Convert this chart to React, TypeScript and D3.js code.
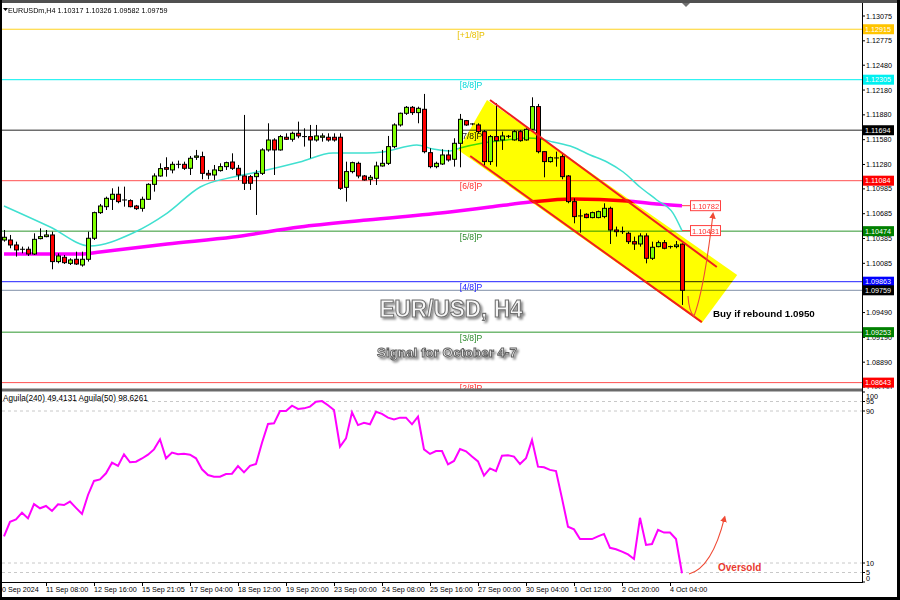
import React from 'react';
import * as d3 from 'd3';

// EURUSD H4 candles, bar 0 = 10 Sep 2024 (approx), last bar = 4 Oct 04:00+
const opens = [
  1.10367, 1.10367, 1.10307, 1.10247, 1.10255, 1.10198, 1.10384, 1.10408, 1.10428, 1.10106,
  1.10158, 1.10085, 1.10134, 1.10065, 1.10134, 1.10388, 1.10698, 1.10770, 1.10859, 1.10920,
  1.10843, 1.10843, 1.10778, 1.10750, 1.10859, 1.11040, 1.11141, 1.11242, 1.11214, 1.11270,
  1.11282, 1.11234, 1.11367, 1.11375, 1.11173, 1.11153, 1.11206, 1.11254, 1.11310, 1.11234,
  1.11141, 1.11133, 1.11133, 1.11173, 1.11456, 1.11576, 1.11456, 1.11609, 1.11585, 1.11657,
  1.11617, 1.11617, 1.11576, 1.11609, 1.11609, 1.11609, 1.11609, 1.11004, 1.11194, 1.11294,
  1.11141, 1.11101, 1.11113, 1.11262, 1.11294, 1.11496, 1.11758, 1.11899, 1.11971, 1.11907,
  1.11947, 1.11423, 1.11254, 1.11286, 1.11395, 1.11343, 1.11536, 1.11810, 1.11766, 1.11758,
  1.11677, 1.11315, 1.11617, 1.11577, 1.11617, 1.11577, 1.11677, 1.11577, 1.11705, 1.11980,
  1.11435, 1.11315, 1.11355, 1.11375, 1.11141, 1.10831, 1.10658, 1.10678, 1.10638, 1.10638,
  1.10650, 1.10750, 1.10488, 1.10468, 1.10448, 1.10347, 1.10319, 1.10416, 1.10146, 1.10287,
  1.10335, 1.10287, 1.10287, 1.10317,
];
const highs = [
  1.10488, 1.10428, 1.10347, 1.10287, 1.10287, 1.10448, 1.10508, 1.10488, 1.10468, 1.10206,
  1.10186, 1.10146, 1.10226, 1.10226, 1.10468, 1.10710, 1.10803, 1.10891, 1.10992, 1.11012,
  1.11012, 1.10859, 1.10791, 1.10891, 1.11053, 1.11173, 1.11294, 1.11367, 1.11314, 1.11327,
  1.11314, 1.11383, 1.11456, 1.11435, 1.11214, 1.11274, 1.11294, 1.11314, 1.11415, 1.11274,
  1.11879, 1.11153, 1.11214, 1.11476, 1.11778, 1.11597, 1.11637, 1.11657, 1.11677, 1.11798,
  1.11717, 1.11758, 1.11758, 1.11657, 1.11657, 1.11657, 1.11657, 1.11314, 1.11314, 1.11314,
  1.11153, 1.11153, 1.11314, 1.11456, 1.11625, 1.11778, 1.11907, 1.11987, 1.11987, 1.11979,
  1.12133, 1.11476, 1.11314, 1.11464, 1.11456, 1.11597, 1.11891, 1.11818, 1.11778, 1.11778,
  1.11697, 1.11637, 1.12020, 1.11677, 1.11637, 1.11697, 1.11697, 1.11718, 1.12092, 1.12012,
  1.11440, 1.11375, 1.11435, 1.11415, 1.11153, 1.10871, 1.10738, 1.10690, 1.10710, 1.10722,
  1.10811, 1.10770, 1.10529, 1.10529, 1.10468, 1.10408, 1.10448, 1.10448, 1.10347, 1.10359,
  1.10367, 1.10299, 1.10355, 1.10326,
];
const lows = [
  1.10347, 1.10267, 1.10166, 1.10206, 1.10174, 1.10186, 1.10375, 1.10400, 1.10013, 1.10085,
  1.10077, 1.10065, 1.10065, 1.10045, 1.10106, 1.10367, 1.10682, 1.10730, 1.10730, 1.10811,
  1.10770, 1.10762, 1.10730, 1.10710, 1.10851, 1.10952, 1.11133, 1.11133, 1.11173, 1.11234,
  1.11214, 1.11153, 1.11335, 1.11101, 1.11101, 1.11093, 1.11194, 1.11214, 1.11214, 1.11093,
  1.10972, 1.10972, 1.10670, 1.11153, 1.11435, 1.11153, 1.11447, 1.11576, 1.11556, 1.11597,
  1.11496, 1.11355, 1.11556, 1.11556, 1.11556, 1.11556, 1.10972, 1.10831, 1.11173, 1.11113,
  1.11085, 1.11032, 1.11032, 1.11254, 1.11274, 1.11476, 1.11738, 1.11879, 1.11879, 1.11778,
  1.11415, 1.11234, 1.11234, 1.11274, 1.11314, 1.11254, 1.11246, 1.11746, 1.11754, 1.11657,
  1.11262, 1.11274, 1.11254, 1.11456, 1.11597, 1.11568, 1.11556, 1.11568, 1.11697, 1.11415,
  1.11125, 1.11303, 1.11254, 1.11101, 1.10811, 1.10569, 1.10456, 1.10630, 1.10630, 1.10630,
  1.10630, 1.10319, 1.10408, 1.10440, 1.10319, 1.10247, 1.10287, 1.10085, 1.10126, 1.10279,
  1.10255, 1.10263, 1.10267, 1.09582,
];
const closes = [
  1.10400, 1.10307, 1.10247, 1.10255, 1.10198, 1.10375, 1.10408, 1.10428, 1.10106, 1.10174,
  1.10093, 1.10126, 1.10077, 1.10134, 1.10388, 1.10698, 1.10778, 1.10871, 1.10920, 1.10831,
  1.10851, 1.10770, 1.10746, 1.10859, 1.11040, 1.11141, 1.11230, 1.11222, 1.11282, 1.11282,
  1.11234, 1.11355, 1.11383, 1.11173, 1.11153, 1.11214, 1.11254, 1.11302, 1.11234, 1.11153,
  1.11053, 1.11053, 1.11173, 1.11456, 1.11576, 1.11456, 1.11617, 1.11585, 1.11657, 1.11625,
  1.11609, 1.11576, 1.11625, 1.11625, 1.11576, 1.11576, 1.10992, 1.11194, 1.11302, 1.11141,
  1.11093, 1.11125, 1.11262, 1.11294, 1.11496, 1.11758, 1.11899, 1.11971, 1.11907, 1.11959,
  1.11435, 1.11254, 1.11294, 1.11395, 1.11335, 1.11536, 1.11826, 1.11758, 1.11770, 1.11677,
  1.11315, 1.11617, 1.11568, 1.11625, 1.11621, 1.11677, 1.11568, 1.11705, 1.11980, 1.11435,
  1.11315, 1.11363, 1.11359, 1.11133, 1.10831, 1.10650, 1.10654, 1.10638, 1.10698, 1.10710,
  1.10750, 1.10488, 1.10468, 1.10466, 1.10347, 1.10319, 1.10416, 1.10146, 1.10279, 1.10335,
  1.10267, 1.10275, 1.10307, 1.09759,
];

// moving averages read at sample bars
const fastMaBars = [0, 7.7, 14.3, 21.5, 27.2, 32.7, 38.2, 43.8, 49.3, 54.8, 60.5, 63.2, 68.8, 71.5, 74.3, 76, 79.8, 83.8, 87.2, 89.3, 91.5, 94.8, 97.7, 100.5, 103.2, 106, 108.8, 111.5, 113];
const fastMaValues = [1.10778, 1.10524, 1.10295, 1.10452, 1.10693, 1.11008, 1.11129, 1.11213, 1.11310, 1.11419, 1.11419, 1.11431, 1.11516, 1.11467, 1.11443, 1.11479, 1.11540, 1.11576, 1.11600, 1.11590, 1.11552, 1.11491, 1.11395, 1.11310, 1.11189, 1.11008, 1.10851, 1.10693, 1.10481];
const slowMaBars = [0, 13.2, 16, 27.2, 38.2, 49.3, 60.5, 74.3, 81, 87.7, 94.8, 103.8, 108.8, 113];
const slowMaValues = [1.10198, 1.10198, 1.10222, 1.10319, 1.10403, 1.10524, 1.10609, 1.10706, 1.10766, 1.10826, 1.10863, 1.10839, 1.10802, 1.10782];

// Aguila(240) oscillator, one value per bar
const oscValues = [
  24, 31.7, 33, 36.5, 33.5, 41, 38.8, 40, 37.4, 40.9,
  40.5, 42.3, 39, 35.8, 45.8, 53.2, 54, 57.2, 62.8, 61.1,
  67.2, 63, 63.3, 65, 67, 69.8, 75.1, 65.1, 68.1, 67.2,
  67.5, 67, 65.1, 59.3, 56.3, 55.4, 55.4, 56.8, 57, 61,
  57.7, 61.1, 62.1, 73.3, 83.2, 83.5, 90, 90, 92.8, 91.1,
  91.4, 92.3, 94.9, 95.2, 93, 90.5, 71.2, 75.6, 89.3, 82.6,
  83.8, 83, 89.6, 88.5, 86.5, 85.6, 86.5, 86.5, 83, 87,
  69.8, 67.4, 68.9, 68.9, 61.9, 63.7, 70, 68.8, 66, 63.5,
  56, 59.8, 58.4, 66.5, 66.7, 66, 62.1, 65.1, 74.7, 60.7,
  60.4, 59, 58.4, 44, 29.1, 27.7, 22.6, 22.6, 22.6, 24,
  25.3, 18, 17.2, 16, 14.5, 12.1, 33.8, 19.5, 20, 27.4,
  26, 26, 22.6, 4.6,
];

// Murrey math levels
const levelNames = ['[+1/8]P', '[8/8]P', '[7/8]P', '[6/8]P', '[5/8]P', '[4/8]P', '[3/8]P', '[2/8]P'];
const levelPrices = [1.12915, 1.12305, 1.11694, 1.11084, 1.10474, 1.09863, 1.09253, 1.08643];
const levelLineColors = ['#FFD21F', '#00F0F0', '#6E6E6E', '#FF5050', '#2E962E', '#2020FF', '#2E962E', '#FF5050'];
const levelTextColors = ['#E8C000', '#00D8D8', '#222222', '#FF3030', '#2E8B2E', '#2020FF', '#2E8B2E', '#FF3030'];
const levelBoxColors = ['#FFC400', '#00F0F0', '#000000', '#FF0000', '#008000', '#0000FF', '#008000', '#FF0000'];
const bidPrice = 1.09759;

const priceTicks = [1.13075, 1.12775, 1.1248, 1.1218, 1.1188, 1.1158, 1.1128, 1.10985, 1.10685, 1.10385, 1.10085, 1.0949, 1.0919, 1.0889, 1.0859];

const timeLabels = ['10 Sep 2024', '11 Sep 08:00', '12 Sep 16:00', '15 Sep 21:05', '17 Sep 04:00', '18 Sep 12:00', '19 Sep 20:00', '23 Sep 00:00', '24 Sep 08:00', '25 Sep 16:00', '27 Sep 00:00', '30 Sep 04:00', '1 Oct 12:00', '2 Oct 20:00', '4 Oct 04:00'];
const timeLabelBars = [-1, 7, 15, 23, 31, 39, 47, 55, 63, 71, 79, 87, 95, 103, 111];

const oscTicks = [100, 95, 90, 10, 5, 0];
const oscDashed = [95, 90, 10, 5];

// channel drawn on the chart (bar, price)
const channelPoly: [number, number][] = [[80.5, 1.1206], [122.2, 1.09944], [116.3, 1.09363], [75.7, 1.11455]];
const channelUpper: [number, number][] = [[81, 1.1206], [118.8, 1.10041]];
const channelLower: [number, number][] = [[77.7, 1.11382], [116.3, 1.09374]];

const FONT = '"Liberation Sans", Arial, sans-serif';

export default function App() {
  const x = d3.scaleLinear().domain([0, 113]).range([4, 682]);
  const y = d3.scaleLinear().domain([1.13075, 1.0859]).range([16, 387]);
  const yo = d3.scaleLinear().domain([0, 100]).range([582, 392]);

  const maLine = d3.line<[number, number]>()
    .x(d => x(d[0]))
    .y(d => y(d[1]))
    .curve(d3.curveMonotoneX);
  const fastPath = maLine(fastMaBars.map((b, i) => [b, fastMaValues[i]]) as [number, number][]) || '';
  const slowPath = maLine(slowMaBars.map((b, i) => [b, slowMaValues[i]]) as [number, number][]) || '';

  const oscPath = d3.line<number>()
    .x((_, i) => x(i))
    .y(d => yo(d))(oscValues) || '';

  const pt = (b: number, p: number) => `${x(b).toFixed(1)},${y(p).toFixed(1)}`;
  const opt = (b: number, v: number) => `${x(b).toFixed(1)},${yo(v).toFixed(1)}`;

  const buyArrow = `M${pt(114, 1.0969)} Q${pt(114.17, 1.09497)} ${pt(115, 1.09448)} Q${pt(116.67, 1.09763)} ${pt(118.17, 1.10681)}`;
  const oversoldArrow = `M${opt(114.17, 4.2)} Q${opt(118, 7.4)} ${opt(120.1, 34)}`;

  const labelX = 471;

  return (
    <div style={{ position: 'absolute', left: 0, top: 0 }}>
      <svg width={900} height={600} style={{ display: 'block', fontFamily: FONT }}>
        <defs>
          <clipPath id="pricePanel"><rect x={2} y={5} width={860} height={384} /></clipPath>
          <clipPath id="oscPanel"><rect x={2} y={392} width={860} height={190} /></clipPath>
          <marker id="arrowHead" viewBox="0 0 10 10" refX="7" refY="5" markerWidth="6" markerHeight="6" orient="auto">
            <path d="M0,0 L10,5 L0,10 z" fill="#F04A35" />
          </marker>
          <filter id="txtShadow" x="-10%" y="-40%" width="130%" height="200%">
            <feDropShadow dx="2" dy="2" stdDeviation="1.3" floodColor="#000" floodOpacity="0.45" />
          </filter>
        </defs>

        <rect x={0} y={0} width={900} height={600} fill="#fff" />

        {/* price panel */}
        <g clipPath="url(#pricePanel)">
          <rect x={2} y={5} width={860} height={384} fill="#fff" />
          {levelPrices.map((p, i) => (
            <line key={'lv' + i} x1={2} x2={862} y1={y(p)} y2={y(p)} stroke={levelLineColors[i]} strokeWidth={i === 2 ? 1.5 : 1} />
          ))}
          <line x1={2} x2={862} y1={y(bidPrice)} y2={y(bidPrice)} stroke="#8090A8" strokeWidth={1} />
          {levelPrices.map((p, i) => (
            <text key={'lt' + i} x={labelX} y={y(p) + 8.5} fontSize={8.6} textAnchor="middle" fill={levelTextColors[i]}>{levelNames[i]}</text>
          ))}

          <path d={slowPath} fill="none" stroke="#FF00FF" strokeWidth={3.5} />
          <path d={fastPath} fill="none" stroke="#40E0D0" strokeWidth={1.5} />

          {opens.map((o, i) => {
            const c = closes[i];
            const cx = Math.round(x(i)) + 0.5;
            const top = y(Math.max(o, c));
            const bot = y(Math.min(o, c));
            const up = c >= o;
            return (
              <g key={'c' + i}>
                <line x1={cx} x2={cx} y1={y(highs[i])} y2={y(lows[i])} stroke="#000" strokeWidth={1} />
                {bot - top < 1.2 ? (
                  <line x1={cx - 2.5} x2={cx + 2.5} y1={top} y2={top} stroke="#000" strokeWidth={1} />
                ) : (
                  <rect x={cx - 2} y={top} width={4} height={bot - top} fill={up ? '#80FF00' : '#FF0000'} stroke="#000" strokeWidth={1} />
                )}
              </g>
            );
          })}

          <polygon points={channelPoly.map(d => pt(d[0], d[1])).join(' ')} fill="#FFFF00" style={{ mixBlendMode: 'multiply' }} />
          <line x1={x(channelUpper[0][0])} y1={y(channelUpper[0][1])} x2={x(channelUpper[1][0])} y2={y(channelUpper[1][1])} stroke="#F01E1E" strokeWidth={2} />
          <line x1={x(channelLower[0][0])} y1={y(channelLower[0][1])} x2={x(channelLower[1][0])} y2={y(channelLower[1][1])} stroke="#F01E1E" strokeWidth={2} />

          {/* MA price labels */}
          {[slowMaValues[slowMaValues.length - 1], fastMaValues[fastMaValues.length - 1]].map((v, i) => (
            <g key={'ml' + i}>
              <line x1={x(113)} x2={x(113) + 8} y1={y(v)} y2={y(v)} stroke="#FF4040" strokeWidth={1} />
              <rect x={x(113) + 8.5} y={y(v) - 5} width={30} height={10} fill="#fff" stroke="#FF4040" strokeWidth={1} />
              <text x={x(113) + 23.5} y={y(v) + 3} fontSize={7.5} textAnchor="middle" fill="#FF3030">{v.toFixed(5)}</text>
            </g>
          ))}

          <path d={buyArrow} fill="none" stroke="#F04A35" strokeWidth={1.1} markerEnd="url(#arrowHead)" />
          <text x={x(118.17)} y={y(1.09436)} fontSize={9.8} fontWeight="bold" fill="#000">Buy if rebound 1.0950</text>

          <text x={451} y={y(1.09436)} fontSize={24} fontWeight="bold" textAnchor="middle" textLength={143} lengthAdjust="spacingAndGlyphs"
            fill="#F6F6F6" stroke="#707070" strokeWidth={1.1} filter="url(#txtShadow)">EUR/USD, H4</text>
          <text x={377} y={y(1.08953)} fontSize={13} fontWeight="bold" textLength={140} lengthAdjust="spacingAndGlyphs"
            fill="#F6F6F6" stroke="#606060" strokeWidth={0.9} filter="url(#txtShadow)">Signal for October  4-7</text>

          <text x={8} y={13} fontSize={7.2} fill="#000">EURUSDm,H4  1.10317 1.10326 1.09582 1.09759</text>
        </g>

        {/* oscillator panel */}
        <g clipPath="url(#oscPanel)">
          {oscDashed.map(v => (
            <line key={'od' + v} x1={2} x2={862} y1={yo(v)} y2={yo(v)} stroke="#C8C8C8" strokeWidth={1} strokeDasharray="3,3" />
          ))}
          <path d={oscPath} fill="none" stroke="#FF00FF" strokeWidth={2} />
          <text x={3} y={401} fontSize={8.2} fill="#000">Aguila(240) 49.4131  Aguila(50) 98.6261</text>
        </g>
        <path d={oversoldArrow} fill="none" stroke="#F04A35" strokeWidth={1.1} markerEnd="url(#arrowHead)" />
        <text x={x(119)} y={yo(5.8)} fontSize={10} fontWeight="bold" fill="#E83A30">Oversold</text>

        {/* frame */}
        <rect x={0} y={0} width={900} height={3} fill="#505050" />
        <polygon points="682,3 690,3 686,7" fill="#707070" />
        <polygon points="3,8 8,8 5.5,11" fill="#000" />
        <line x1={2} x2={862} y1={390} y2={390} stroke="#6a6a6a" strokeWidth={3} />
        <line x1={2} x2={862} y1={582.5} y2={582.5} stroke="#000" strokeWidth={1} />
        <line x1={862.5} x2={862.5} y1={3} y2={583} stroke="#000" strokeWidth={1} />

        {/* price axis */}
        <g fontSize={7.2} fill="#000">
          {priceTicks.map(p => (
            <g key={'pt' + p}>
              <line x1={862} x2={865} y1={y(p)} y2={y(p)} stroke="#000" />
              <text x={866} y={y(p) + 2.6}>{p.toFixed(5)}</text>
            </g>
          ))}
          {levelPrices.map((p, i) => (
            <g key={'lb' + i}>
              <rect x={863} y={y(p) - 5} width={31} height={10} fill={levelBoxColors[i]} />
              <text x={865} y={y(p) + 2.6} fill="#fff">{p.toFixed(5)}</text>
            </g>
          ))}
          <rect x={863} y={y(bidPrice) - 5} width={31} height={10} fill="#000" />
          <text x={865} y={y(bidPrice) + 2.6} fill="#fff">{bidPrice.toFixed(5)}</text>
        </g>
        <rect x={863} y={389} width={34} height={5} fill="#fff" />

        {/* oscillator axis */}
        <g fontSize={7.2} fill="#000">
          {oscTicks.map(v => (
            <g key={'ot' + v}>
              <line x1={862} x2={865} y1={yo(v)} y2={yo(v)} stroke="#000" />
              <text x={866} y={Math.min(Math.max(yo(v), 396), 578) + 2.6}>{v}</text>
            </g>
          ))}
        </g>

        {/* time axis */}
        <g fontSize={7.2} fill="#000">
          {timeLabels.map((t, i) => (
            <g key={'tl' + i}>
              <line x1={x(timeLabelBars[i]) + 0.5} x2={x(timeLabelBars[i]) + 0.5} y1={582} y2={586} stroke="#000" />
              <text x={x(timeLabelBars[i])} y={592}>{t}</text>
            </g>
          ))}
        </g>

        <rect x={0} y={0} width={2} height={600} fill="#000" />
        <rect x={897} y={0} width={3} height={600} fill="#000" />
        <rect x={0} y={597} width={900} height={3} fill="#000" />
      </svg>
    </div>
  );
}
